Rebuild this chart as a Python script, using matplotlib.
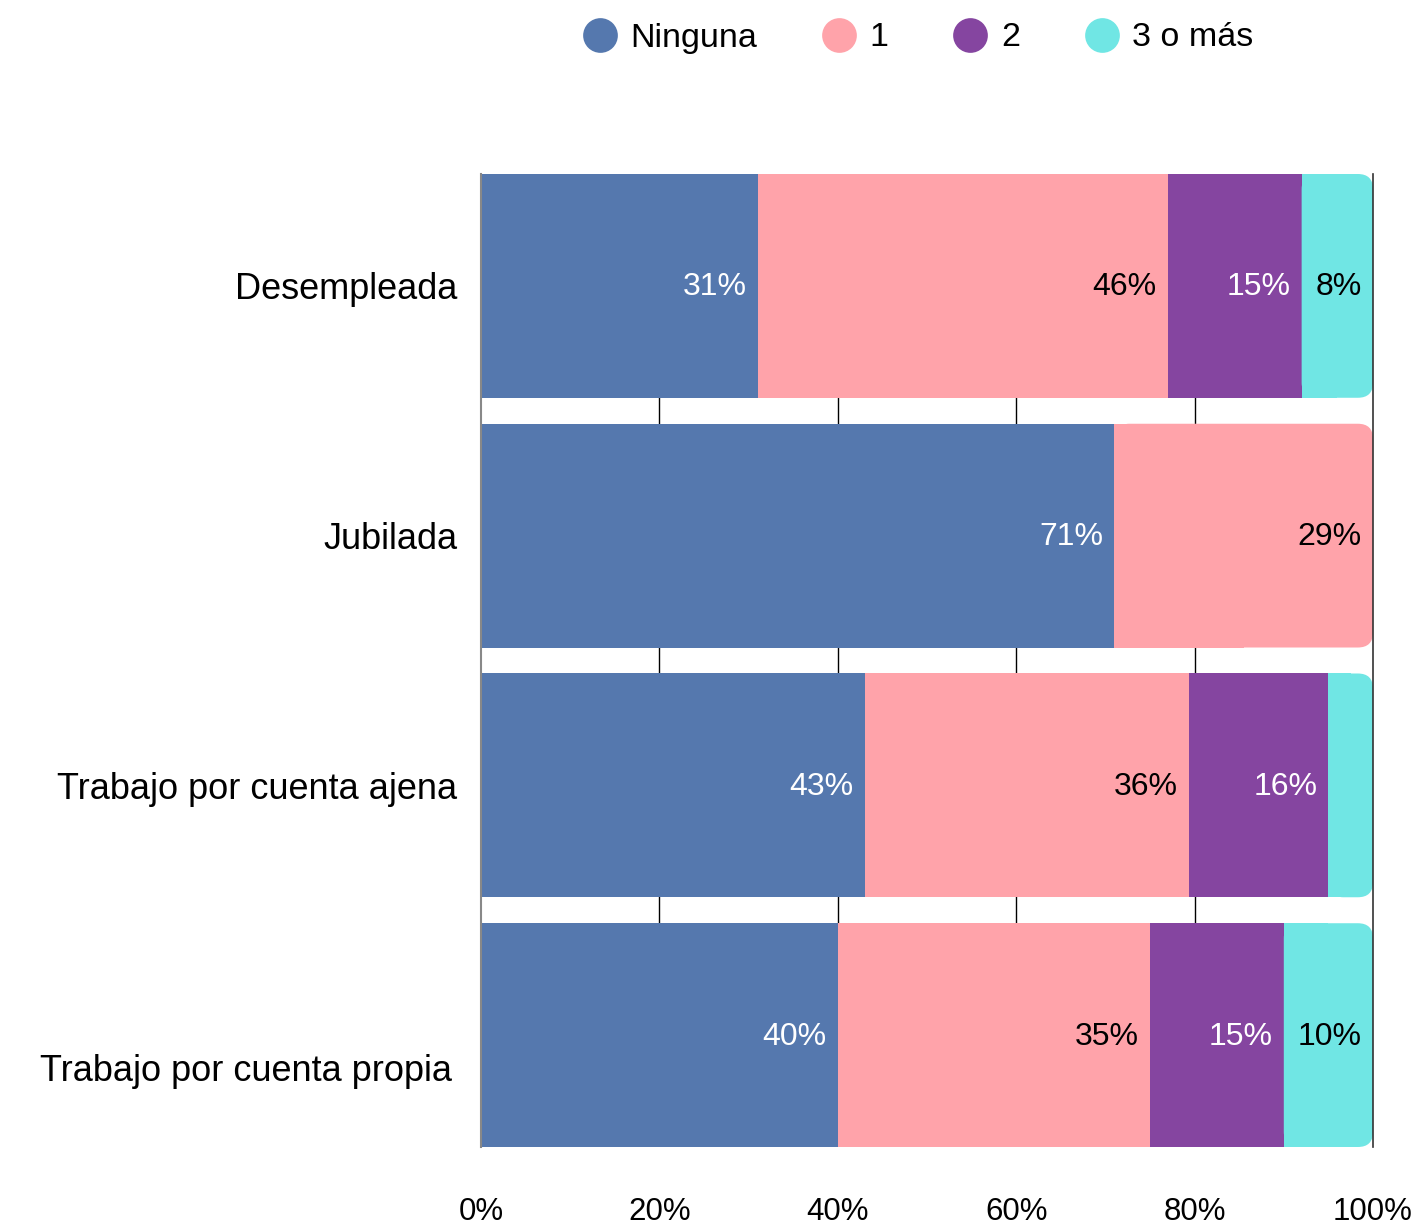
import matplotlib
matplotlib.use('Agg')
import matplotlib.pyplot as plt
from matplotlib.patches import FancyBboxPatch
from matplotlib.lines import Line2D
from matplotlib.transforms import ScaledTranslation

plt.rcParams['font.family'] = ['Liberation Sans', 'DejaVu Sans']

# data
categories = ['Desempleada', 'Jubilada', 'Trabajo por cuenta ajena', 'Trabajo por cuenta propia']
series = ['Ninguna', '1', '2', '3 o más']
ninguna = [31, 71, 43, 40]
uno = [46, 29, 36.4, 35]
dos = [15, 0, 15.6, 15]
tres_mas = [8, 0, 5, 10]
xticks = [0, 20, 40, 60, 80, 100]
xticklabels = ['0%', '20%', '40%', '60%', '80%', '100%']

colors = ['#5578ae', '#ffa3aa', '#8545a0', '#70e6e4']
text_colors = ['white', 'black', 'white', 'black']

fig = plt.figure(figsize=(14.28, 12.26), dpi=100)
ax = fig.add_axes([481 / 1428, 1 - 1147 / 1226, 892 / 1428, 973 / 1226])

height = 0.896
ax.set_xlim(0, 100)
ax.set_ylim(3 + height / 2, -height / 2)

# x-units vs y-units per pixel, for round corners that look round
aspect = ((3 + height) / 973) / (100 / 892)

data = [ninguna, uno, dos, tres_mas]
for i, cat in enumerate(categories):
    left = 0
    vals = [d[i] for d in data]
    last = max(j for j, v in enumerate(vals) if v > 0)
    for j, v in enumerate(vals):
        if v <= 0:
            continue
        if j == last:
            box = FancyBboxPatch((left, i - height / 2), v, height,
                                 boxstyle='round,pad=0,rounding_size=1.7',
                                 mutation_aspect=aspect, facecolor=colors[j],
                                 edgecolor='none', zorder=3)
            ax.add_patch(box)
            ax.barh(i, v / 2, left=left, height=height, color=colors[j], zorder=3)
        else:
            ax.barh(i, v, left=left, height=height, color=colors[j], zorder=3)
        if v >= 6:
            ax.annotate('%.0f%%' % v, xy=(left + v, i), xytext=(-8, -1),
                        textcoords='offset points', ha='right', va='center',
                        fontsize=23, color=text_colors[j], zorder=4)
        left += v

# grid and frame
for x in xticks[1:-1]:
    ax.axvline(x, color='black', lw=1, zorder=1)
ax.axvline(100, color='#333333', lw=1.2, zorder=4, clip_on=False)
for s in ['top', 'right', 'bottom']:
    ax.spines[s].set_visible(False)
ax.spines['left'].set_color('#888888')
ax.spines['left'].set_linewidth(1.5)
ax.spines['left'].set_zorder(5)

ax.set_yticks(range(len(categories)))
ax.set_yticklabels(categories, fontsize=26)
ax.set_xticks(xticks)
ax.set_xticklabels(xticklabels, fontsize=22.5)
ax.tick_params(axis='y', length=0, pad=17)
ax.tick_params(axis='x', length=0, pad=36)

# last category label sits lower in the original
lab = ax.get_yticklabels()[-1]
lab.set_transform(lab.get_transform() + ScaledTranslation(-5 / 100, -32 / 100, fig.dpi_scale_trans))

handles = [Line2D([], [], marker='o', linestyle='none', markersize=25,
                  markerfacecolor=c, markeredgecolor='none') for c in colors]
fig.legend(handles, series, loc='center', bbox_to_anchor=(0.643, 1 - 38 / 1226),
           ncol=4, frameon=False, fontsize=24.5, handlelength=1.0,
           handletextpad=0.4, columnspacing=1.9)

fig.savefig('out.png', dpi=100)
